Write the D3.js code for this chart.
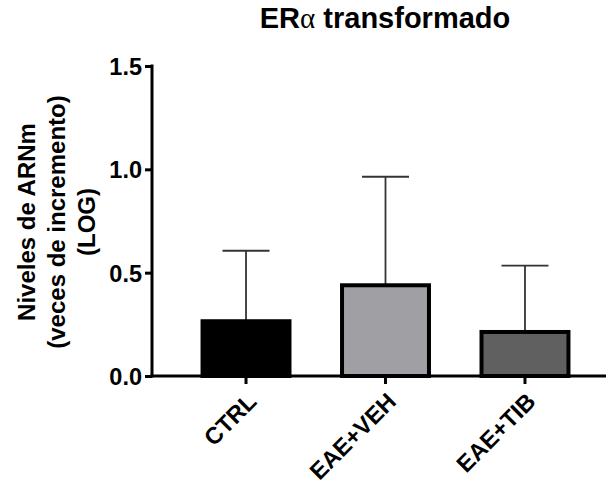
<!DOCTYPE html>
<html>
<head>
<meta charset="utf-8">
<script src="https://cdn.jsdelivr.net/npm/d3@7"></script>
<style>
  body { margin: 0; background: #fff; }
  text { font-family: "Liberation Sans", Arial, sans-serif; font-weight: bold; fill: #000; }
</style>
</head>
<body>
<div id="chart"></div>
<script>
// data
var groups = ["CTRL", "EAE+VEH", "EAE+TIB"];
var means = [0.265, 0.439, 0.213];
var upperErr = [0.606, 0.964, 0.534];   // top of error bar (mean + SD)
var fills = ["#000000", "#a0a0a4", "#606060"];
var yTicks = [0.0, 0.5, 1.0, 1.5];

var width = 608, height = 485;

var svg = d3.select("#chart")
    .append("svg")
    .attr("width", width)
    .attr("height", height);

// scales
var y = d3.scaleLinear()
    .domain([0, 1.5])
    .range([376, 66]);

var x = d3.scaleBand()
    .domain(groups)
    .range([152, 619])
    .padding(0.348);

// title
svg.append("text")
    .attr("x", 385)
    .attr("y", 28)
    .attr("text-anchor", "middle")
    .style("font-size", "29px")
    .call(function (t) {
        t.append("tspan").text("ER");
        t.append("tspan")
            .style("font-family", "'Liberation Serif', serif")
            .style("font-weight", "normal")
            .text("α");
        t.append("tspan").text(" transformado");
    });

// y axis
var yAxis = svg.append("g")
    .attr("transform", "translate(152,0)")
    .call(d3.axisLeft(y).tickValues(yTicks).tickSize(7).tickSizeOuter(0).tickPadding(3)
        .tickFormat(d3.format(".1f")));
yAxis.select(".domain").attr("stroke-width", 3).attr("d", "M0,64.5V377.5");
yAxis.selectAll(".tick line").attr("stroke-width", 3);
yAxis.selectAll(".tick text")
    .style("font-size", "23.5px")
    .attr("dy", "0.36em");

// y label
var ylab = svg.append("text")
    .attr("transform", "translate(35,222) rotate(-90)")
    .attr("text-anchor", "middle")
    .style("font-size", "24px");
["Niveles de ARNm", "(veces de incremento)", "(LOG)"].forEach(function (s, i) {
    ylab.append("tspan").attr("x", 0).attr("dy", i == 0 ? 0 : 30).text(s);
});

// x axis
var xAxis = svg.append("g")
    .attr("transform", "translate(0,376)")
    .call(d3.axisBottom(x).tickSize(8).tickSizeOuter(0));
xAxis.select(".domain").remove();
xAxis.selectAll(".tick line").attr("stroke-width", 3);
xAxis.selectAll(".tick text")
    .style("font-size", "23.5px")
    .attr("text-anchor", "end")
    .attr("y", 0)
    .attr("dy", 0)
    .attr("transform", "translate(12,27) rotate(-45)");

svg.append("line")
    .attr("x1", 150.5).attr("x2", 606)
    .attr("y1", 376).attr("y2", 376)
    .attr("stroke", "#000")
    .attr("stroke-width", 3);

// error bars (upper only)
var eb = svg.selectAll(".err")
    .data(groups)
    .enter()
    .append("g")
    .attr("class", "err");
eb.append("line")
    .attr("x1", function (d) { return x(d) + x.bandwidth() / 2; })
    .attr("x2", function (d) { return x(d) + x.bandwidth() / 2; })
    .attr("y1", function (d, i) { return y(means[i]); })
    .attr("y2", function (d, i) { return y(upperErr[i]); })
    .attr("stroke", "#333")
    .attr("stroke-width", 1.8);
eb.append("line")
    .attr("x1", function (d) { return x(d) + x.bandwidth() / 2 - 23.5; })
    .attr("x2", function (d) { return x(d) + x.bandwidth() / 2 + 23.5; })
    .attr("y1", function (d, i) { return y(upperErr[i]); })
    .attr("y2", function (d, i) { return y(upperErr[i]); })
    .attr("stroke", "#333")
    .attr("stroke-width", 1.8);

// bars
svg.selectAll(".bar")
    .data(groups)
    .enter()
    .append("rect")
    .attr("class", "bar")
    .attr("x", function (d) { return x(d) + 2; })
    .attr("y", function (d, i) { return y(means[i]); })
    .attr("width", x.bandwidth() - 4)
    .attr("height", function (d, i) { return y(0) - y(means[i]); })
    .attr("fill", function (d, i) { return fills[i]; })
    .attr("stroke", "#000")
    .attr("stroke-width", 4);
</script>
</body>
</html>
